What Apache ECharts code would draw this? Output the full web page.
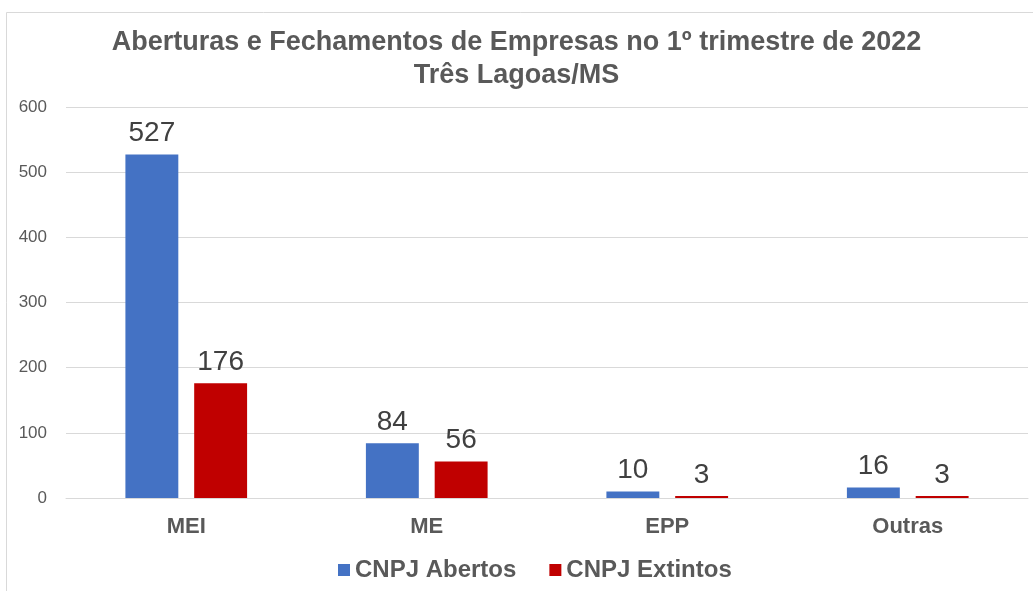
<!DOCTYPE html>
<html>
<head>
<meta charset="utf-8">
<script src="https://cdn.jsdelivr.net/npm/echarts@6/dist/echarts.min.js"></script>
<style>
  html, body { margin: 0; padding: 0; background: #fff; }
  #chart { width: 1033px; height: 591px; }
</style>
</head>
<body>
<div id="chart"></div>
<script>
const categories = ['MEI', 'ME', 'EPP', 'Outras'];
const abertos = [527, 84, 10, 16];
const extintos = [176, 56, 3, 3];
const yTicks = [0, 600, 100];

const textColor = '#595959';
const chart = echarts.init(document.getElementById('chart'));

chart.setOption({
  backgroundColor: '#fff',
  animation: false,
  textStyle: { fontFamily: 'Liberation Sans, Arial, sans-serif' },
  graphic: [
    {
      type: 'rect',
      left: 4,
      top: 10,
      shape: { width: 1040, height: 600 },
      style: { fill: 'none', stroke: '#d9d9d9', lineWidth: 1 },
      silent: true
    }
  ],
  title: {
    text: 'Aberturas e Fechamentos de Empresas no 1º trimestre de 2022\nTrês Lagoas/MS',
    left: 'center',
    top: 21,
    textStyle: {
      color: textColor,
      fontSize: 27,
      fontWeight: 'bold',
      lineHeight: 33
    }
  },
  legend: {
    bottom: 4,
    left: 333,
    itemWidth: 12,
    itemHeight: 12,
    itemGap: 33,
    icon: 'rect',
    textStyle: { color: textColor, fontSize: 24, fontWeight: 'bold' },
    data: ['CNPJ Abertos', 'CNPJ Extintos']
  },
  grid: {
    left: 66,
    right: 5,
    top: 107,
    bottom: 93,
    containLabel: false
  },
  xAxis: {
    type: 'category',
    data: categories,
    axisLine: { show: true, lineStyle: { color: '#d9d9d9' } },
    axisTick: { show: false },
    axisLabel: {
      color: textColor,
      fontSize: 22,
      fontWeight: 'bold',
      margin: 18
    }
  },
  yAxis: {
    type: 'value',
    min: yTicks[0],
    max: yTicks[1],
    interval: yTicks[2],
    axisLine: { show: false },
    axisTick: { show: false },
    axisLabel: { color: textColor, fontSize: 17, margin: 19 },
    splitLine: { lineStyle: { color: '#d9d9d9' } }
  },
  series: [
    {
      name: 'CNPJ Abertos',
      type: 'bar',
      data: abertos,
      barWidth: '22%',
      barGap: '30%',
      itemStyle: { color: '#4472C4' },
      label: { show: true, position: 'top', color: '#404040', fontSize: 28, distance: 7 }
    },
    {
      name: 'CNPJ Extintos',
      type: 'bar',
      data: extintos,
      barWidth: '22%',
      itemStyle: { color: '#C00000' },
      label: { show: true, position: 'top', color: '#404040', fontSize: 28, distance: 7 }
    }
  ]
});
</script>
</body>
</html>
